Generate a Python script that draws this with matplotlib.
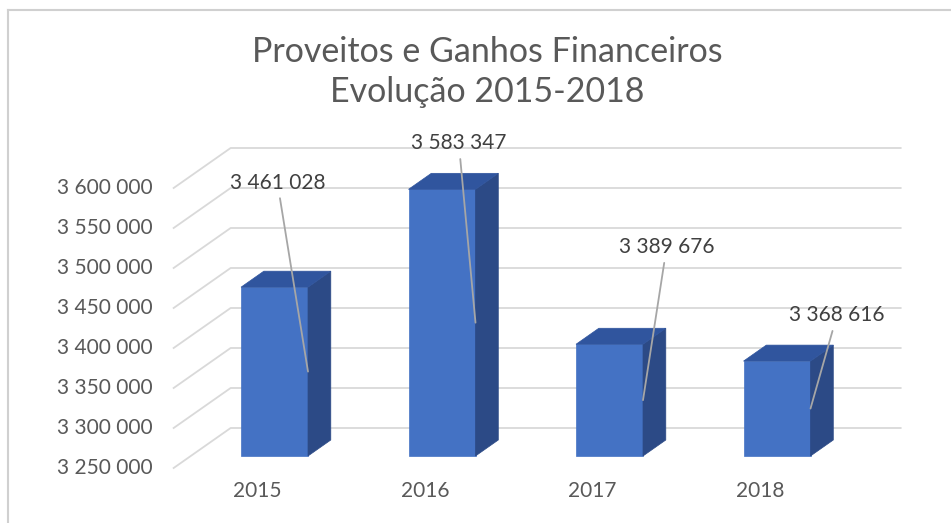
import matplotlib.pyplot as plt
from matplotlib.patches import Polygon
from matplotlib.lines import Line2D

plt.rcParams['font.family'] = ['Lato', 'DejaVu Sans']

years = ['2015', '2016', '2017', '2018']
values = [3461028, 3583347, 3389676, 3368616]
value_labels = ['3 461 028', '3 583 347', '3 389 676', '3 368 616']
ticks = [3250000, 3300000, 3350000, 3400000, 3450000, 3500000, 3550000, 3600000]
tick_labels = ['3 250 000', '3 300 000', '3 350 000', '3 400 000',
               '3 450 000', '3 500 000', '3 550 000', '3 600 000']
title1 = 'Proveitos e Ganhos Financeiros'
title2 = 'Evolução 2015-2018'

# where each data label sits relative to its bar (points)
label_offsets = [(-22, 136), (-12, 129), (17, 110), (19, 67)]

W, H = 951, 523
fig = plt.figure(figsize=(W / 100, H / 100), dpi=100)
ax = fig.add_axes([0, 0, 1, 1])

# pixel scales used by the pseudo-3d view
px_cat = 167.5          # pixels per category
px_val = 1250.0         # value units per pixel
x0_px = 257.4           # pixel x of category 0 (front plane)
base = ticks[0]
base_px = 468           # pixel y of base on front plane
ax.set_xlim(-x0_px / px_cat, (W - x0_px) / px_cat)
ax.set_ylim(base - (H - base_px) * px_val, base + base_px * px_val)
ax.axis('off')

step = ticks[1] - ticks[0]
DX = 57 / px_cat        # depth shift in category units
DY = step               # depth shift in value units


def proj(x, v, d):
    return x + d * DX, v + d * DY


grid_c = '#D9D9D9'
left, right = -0.5, len(years) - 0.5
for t, lab in zip(ticks, tick_labels):
    p0 = proj(left, t, 0)
    p1 = proj(left, t, 1)
    p2 = proj(right, t, 1)
    ax.plot([p0[0], p1[0], p2[0]], [p0[1], p1[1], p2[1]], color=grid_c, lw=1.3, zorder=1)
    ax.text(left - 0.128, t, lab, ha='right', va='center', fontsize=15, color='#595959')

front_c = '#4472C4'
side_c = '#2C4A86'
top_c = '#30559E'
bw = 0.4
d0, dd = 0.3, 0.4
for i, (v, lab, off) in enumerate(zip(values, value_labels, label_offsets)):
    xl, b = proj(i - bw / 2, base, d0)
    xr, t = proj(i + bw / 2, v, d0)
    ex, ey = dd * DX, dd * DY
    ax.add_patch(Polygon([(xl, b), (xr, b), (xr, t), (xl, t)], closed=True,
                         facecolor=front_c, edgecolor=front_c, lw=0.5, zorder=3))
    ax.add_patch(Polygon([(xr, b), (xr, t), (xr + ex, t + ey), (xr + ex, b + ey)], closed=True,
                         facecolor=side_c, edgecolor=side_c, lw=0.5, zorder=3))
    ax.add_patch(Polygon([(xl, t), (xr, t), (xr + ex, t + ey), (xl + ex, t + ey)], closed=True,
                         facecolor=top_c, edgecolor=top_c, lw=0.5, zorder=3))
    ax.annotate(lab, xy=(xr, (b + t) / 2), xytext=off, textcoords='offset points',
                ha='center', va='center', fontsize=15, color='#404040', zorder=5,
                arrowprops=dict(arrowstyle='-', color='#A6A6A6', lw=1.3,
                                shrinkA=2, shrinkB=0))
    ax.text(i, base - 0.58 * step, years[i], ha='center', va='center',
            fontsize=15, color='#595959')

fig.text(487 / W, 1 - 62 / H, title1, ha='center', va='baseline', fontsize=24.5, color='#595959')
fig.text(487 / W, 1 - 101.5 / H, title2, ha='center', va='baseline', fontsize=24.5, color='#595959')

# chart area border (top and left edges visible)
fig.add_artist(Line2D([8 / W, 1], [1 - 9.5 / H, 1 - 9.5 / H], color='#D0D0D0', lw=1.5))
fig.add_artist(Line2D([8 / W, 8 / W], [0, 1 - 9.5 / H], color='#D0D0D0', lw=1.5))

fig.savefig('out.png', dpi=100, facecolor='white')
